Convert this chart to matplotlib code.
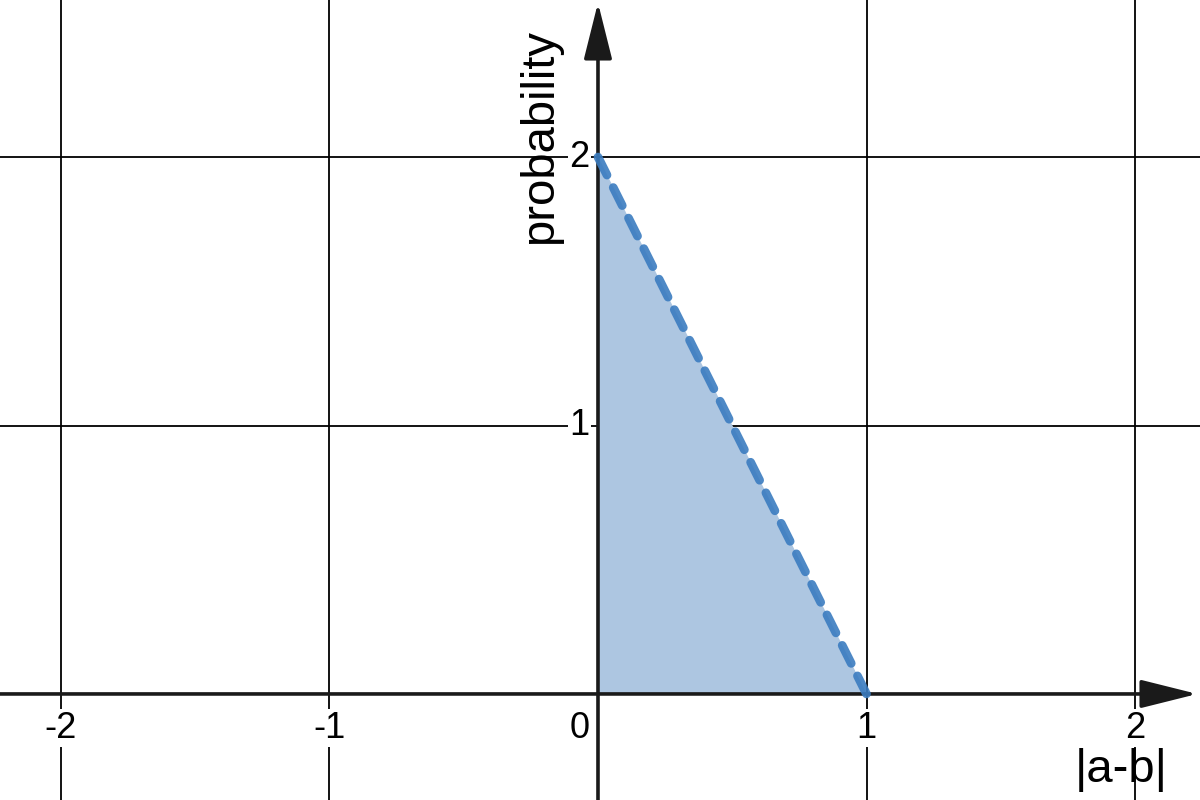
import matplotlib.pyplot as plt
import numpy as np

plt.rcParams['font.family'] = ['Liberation Sans', 'DejaVu Sans']

# density of |a-b| for a, b uniform on [0, 1]
x_vals = [0.0, 1.0]
y_vals = [2.0, 0.0]

x_ticks = [-2, -1, 1, 2]
y_ticks = [1, 2]
x_label = '|a-b|'
y_label = 'probability'

XMIN, XMAX = -2.227, 2.242
YMIN, YMAX = -0.395, 2.585

fig = plt.figure(figsize=(12, 8), dpi=100)
ax = fig.add_axes([0, 0, 1, 1])
ax.set_xlim(XMIN, XMAX)
ax.set_ylim(YMIN, YMAX)
ax.axis('off')

# grid
for xt in x_ticks:
    ax.axvline(xt, color='black', lw=1.3, zorder=1)
for yt in y_ticks:
    ax.axhline(yt, color='black', lw=1.3, zorder=1)

# filled region and dashed edge
ax.fill_between(x_vals, y_vals, 0, color='#adc6e1', lw=0, zorder=2)
ax.plot(x_vals, y_vals, color='#3b7cc0', alpha=0.9, lw=6.3, dashes=(2.3, 1.6),
        dash_capstyle='round', solid_capstyle='round', zorder=4)

# axes with arrows
arrow = dict(arrowstyle='-|>,head_length=1.4,head_width=0.35', color='#1a1a1a',
             lw=2.6, mutation_scale=25, shrinkA=0, shrinkB=0)
ax.annotate('', xy=(XMAX - 0.01, 0), xytext=(XMIN, 0), arrowprops=arrow, zorder=3)
ax.annotate('', xy=(0, YMAX - 0.01), xytext=(0, YMIN), arrowprops=arrow, zorder=3)

box = dict(boxstyle='square,pad=0.05', fc='white', ec='none')
for xt in x_ticks:
    ax.annotate(str(xt), xy=(xt, 0), xytext=(0, -12), textcoords='offset points',
                ha='center', va='top', fontsize=26, bbox=box, zorder=5)
for yt in y_ticks:
    ax.annotate(str(yt), xy=(0, yt), xytext=(-6, 0), textcoords='offset points',
                ha='right', va='center', fontsize=26, bbox=box, zorder=5)
ax.annotate('0', xy=(0, 0), xytext=(-6, -12), textcoords='offset points',
            ha='right', va='top', fontsize=26, zorder=5)

ax.text(1.948, -0.283, x_label, ha='center', va='center', fontsize=34, zorder=5)
ax.text(-0.216, 2.075, y_label, rotation=90, ha='center', va='center',
        fontsize=34, zorder=5)

fig.savefig('out.png', dpi=100)
